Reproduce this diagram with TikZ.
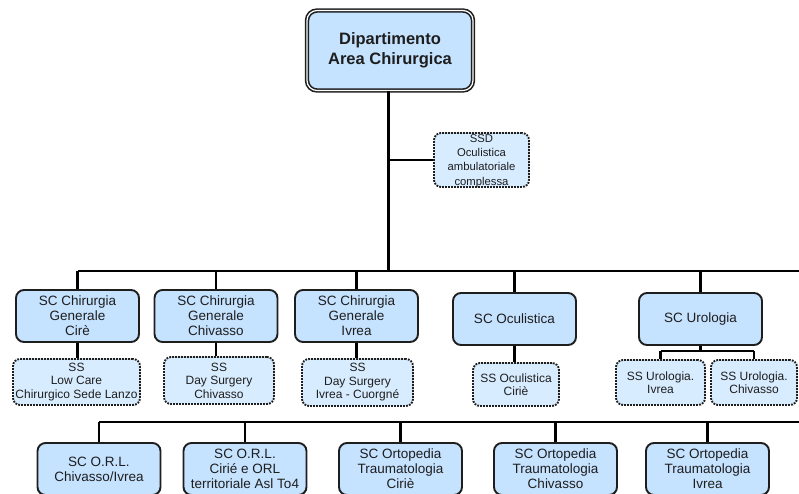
\documentclass[tikz,border=0pt]{standalone}
\usepackage{fontspec}
\setmainfont{Liberation Sans}
\definecolor{scblue}{RGB}{197,226,255}
\definecolor{ssblue}{RGB}{216,236,255}
\definecolor{txt}{RGB}{30,30,30}
\begin{document}
\begin{tikzpicture}[x=1pt,y=-1pt,
  topbox/.style={draw=txt, double=white, double distance=1.2pt, line width=1.6pt,
    rounded corners=10pt, fill=scblue, minimum width=166pt, minimum height=80pt,
    align=center, inner sep=0pt, text=txt, font=\bfseries\fontsize{16.5}{20}\selectfont},
  scbox/.style={draw=txt, line width=1.9pt, rounded corners=8pt, fill=scblue,
    minimum width=123pt, minimum height=52pt, align=center, inner sep=0pt,
    text=txt, font=\fontsize{13.5}{15}\selectfont},
  ssbox/.style={draw=txt, line width=1.9pt, dash pattern=on 1.8pt off 1.2pt,
    rounded corners=7pt, fill=ssblue, align=center, inner sep=0pt,
    text=txt, font=\fontsize{12}{13.5}\selectfont},
  link/.style={line width=2.2pt, black}]
\useasboundingbox (0,0) rectangle (799,493);
\clip (0,0) rectangle (799,493);

% top
\node[topbox] (top) at (390,50.5) {Dipartimento\\Area Chirurgica};

% SSD
\node[ssbox, minimum width=95pt, minimum height=54pt] (ssd) at (481.5,160) {};
\node[inner sep=0pt, align=center, text=txt, font=\fontsize{11.3}{14.3}\selectfont] (ssdtext) at (481.5,161) {SSD\\Oculistica\\ambulatoriale\\complessa};

% SC row
\node[scbox] (sc1) at (77.5,316) {SC Chirurgia\\Generale\\Cirè};
\node[scbox] (sc2) at (216,316) {SC Chirurgia\\Generale\\Chivasso};
\node[scbox] (sc3) at (356.5,316) {SC Chirurgia\\Generale\\Ivrea};
\node[scbox] (sc4) at (514.5,319) {SC Oculistica};
\node[scbox] (sc5) at (700.5,319) {SC Urologia};

% SS row
\node[ssbox, minimum width=127pt, minimum height=46pt] (ss1) at (76.5,382) {SS\\Low Care\\Chirurgico Sede Lanzo};
\node[ssbox, minimum width=110pt, minimum height=47pt] (ss2) at (219,380.5) {SS\\Day Surgery\\Chivasso};
\node[ssbox, minimum width=111pt, minimum height=47pt] (ss3) at (357.5,382.5) {SS\\Day Surgery\\Ivrea - Cuorgné};
\node[ssbox, minimum width=86pt, minimum height=43pt] (ss4) at (516,384.5) {SS Oculistica\\Ciriè};
\node[ssbox, minimum width=89pt, minimum height=45pt] (ss5) at (660.5,382.5) {SS Urologia.\\Ivrea};
\node[ssbox, minimum width=86pt, minimum height=45pt] (ss6) at (754,382.5) {SS Urologia.\\Chivasso};

% bottom row
\node[scbox] (o1) at (99,469) {SC O.R.L.\\Chivasso/Ivrea};
\node[scbox] (o2) at (245,469) {SC O.R.L.\\Cirié e ORL\\territoriale Asl To4};
\node[scbox] (o3) at (400.5,469) {SC Ortopedia\\Traumatologia\\Ciriè};
\node[scbox] (o4) at (555.5,469) {SC Ortopedia\\Traumatologia\\Chivasso};
\node[scbox] (o5) at (707.5,469) {SC Ortopedia\\Traumatologia\\Ivrea};

% coordinates
\coordinate (barR) at (799,271);
\coordinate (trunk) at (388.5,271);
\coordinate (ufork) at (700.5,351);
\coordinate (bbR) at (799,422);

% connectors
\draw[link] (top.south -| trunk) -- (trunk);
\draw[link] (ssd.west -| trunk) -- (ssd.west);
\draw[link] (sc1.north |- barR) -- (barR);
\foreach \n in {sc1,sc2,sc3,sc4,sc5}{
  \draw[link] (\n.north) -- (\n.north |- barR);
}
\draw[link] (sc1.south) -- (sc1.south |- ss1.north);
\draw[link] (sc2.south) -- (sc2.south |- ss2.north);
\draw[link] (sc3.south) -- (sc3.south |- ss3.north);
\draw[link] (sc4.south) -- (sc4.south |- ss4.north);
\draw[link] (sc5.south) -- (ufork);
\draw[link] (ss5.north |- ufork) -- (ss6.north |- ufork);
\draw[link] (ss5.north |- ufork) -- (ss5.north);
\draw[link] (ss6.north |- ufork) -- (ss6.north);

\draw[link] (o1.north |- bbR) -- (bbR);
\foreach \n in {o1,o2,o3,o4,o5}{
  \draw[link] (\n.north) -- (\n.north |- bbR);
}
\end{tikzpicture}
\end{document}
